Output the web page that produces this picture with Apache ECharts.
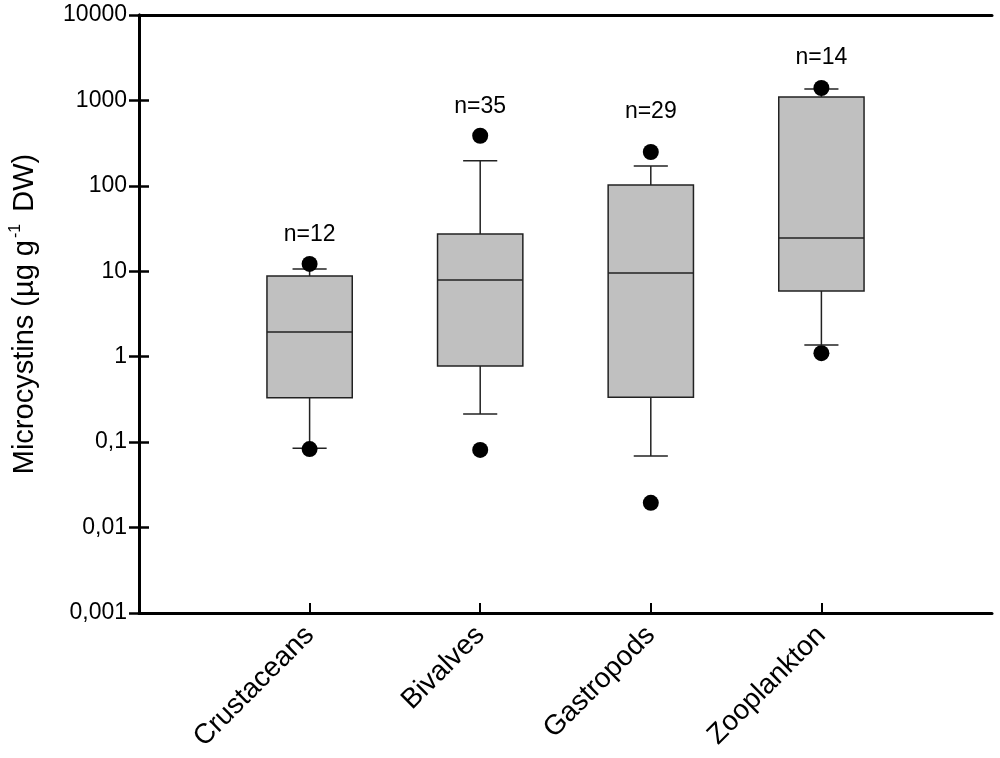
<!DOCTYPE html>
<html lang="en">
<head>
    <meta charset="UTF-8">
    <title>Microcystins</title>
    <script src="https://cdn.jsdelivr.net/npm/echarts@6.0.0/dist/echarts.min.js"></script>
    <style>
        html, body { margin: 0; padding: 0; background: #fff; }
        #main { width: 1000px; height: 758px; }
    </style>
</head>
<body>
    <div id="main"></div>
    <script>
        // box plot statistics (µg g-1 DW)
        var categories = ['Crustaceans', 'Bivalves', 'Gastropods', 'Zooplankton'];
        var whiskerLow  = [0.085, 0.213, 0.069, 1.37];
        var q1          = [0.33, 0.78, 0.335, 5.88];
        var median      = [1.95, 7.9, 9.55, 24.5];
        var q3          = [8.8, 27.3, 102, 1096];
        var whiskerHigh = [10.6, 197, 171, 1361];
        var outlierLow  = [0.083, 0.081, 0.0195, 1.10];
        var outlierHigh = [12.2, 386, 249, 1397];
        var sampleSize  = ['n=12', 'n=35', 'n=29', 'n=14'];
        var sampleLabelAt = [27, 837, 731, 3140];

        var font = 'Liberation Sans, Arial, sans-serif';

        var boxData = categories.map(function (c, i) {
            return [i + 1, whiskerLow[i], q1[i], median[i], q3[i], whiskerHigh[i]];
        });
        var outliers = [];
        categories.forEach(function (c, i) {
            outliers.push([i + 1, outlierLow[i]]);
            outliers.push([i + 1, outlierHigh[i]]);
        });
        var nData = categories.map(function (c, i) { return [i + 1, sampleLabelAt[i]]; });

        function renderBox(params, api) {
            var x = api.value(0);
            var pLow = api.coord([x, api.value(1)]);
            var pQ1 = api.coord([x, api.value(2)]);
            var pMed = api.coord([x, api.value(3)]);
            var pQ3 = api.coord([x, api.value(4)]);
            var pHigh = api.coord([x, api.value(5)]);
            var cx = pLow[0];
            var left = api.coord([x - 0.25, api.value(2)])[0];
            var right = api.coord([x + 0.25, api.value(2)])[0];
            var capL = api.coord([x - 0.1, api.value(2)])[0];
            var capR = api.coord([x + 0.1, api.value(2)])[0];
            var ln = { stroke: '#222', lineWidth: 1.5 };
            return {
                type: 'group',
                children: [
                    { type: 'line', shape: { x1: cx, y1: pLow[1], x2: cx, y2: pQ1[1] }, style: ln },
                    { type: 'line', shape: { x1: cx, y1: pQ3[1], x2: cx, y2: pHigh[1] }, style: ln },
                    { type: 'line', shape: { x1: capL, y1: pLow[1], x2: capR, y2: pLow[1] }, style: ln },
                    { type: 'line', shape: { x1: capL, y1: pHigh[1], x2: capR, y2: pHigh[1] }, style: ln },
                    { type: 'rect', shape: { x: left, y: pQ3[1], width: right - left, height: pQ1[1] - pQ3[1] },
                      style: { fill: '#c0c0c0', stroke: '#222', lineWidth: 1.5 } },
                    { type: 'line', shape: { x1: left, y1: pMed[1], x2: right, y2: pMed[1] }, style: ln }
                ]
            };
        }

        function fmtComma(v) {
            return String(Number(v.toPrecision(6))).replace('.', ',');
        }

        var chart = echarts.init(document.getElementById('main'));
        var option = {
            backgroundColor: '#fff',
            animation: false,
            grid: { left: 137, right: 8, top: 15, bottom: 145 },
            xAxis: [{
                type: 'value', min: 0, max: 5, interval: 1,
                axisLine: { show: true, lineStyle: { color: '#000', width: 3 } },
                axisTick: { show: true, inside: true, length: 10, customValues: [1, 2, 3, 4],
                            lineStyle: { color: '#000', width: 2 } },
                splitLine: { show: false },
                axisLabel: {
                    rotate: 45, margin: 18, fontSize: 28, color: '#000', fontFamily: font,
                    customValues: [1, 2, 3, 4],
                    formatter: function (v) { return categories[v - 1] || ''; }
                }
            }, {
                type: 'value', min: 0, max: 5, position: 'top',
                axisLine: { show: true, lineStyle: { color: '#000', width: 3 } },
                axisTick: { show: false }, axisLabel: { show: false }, splitLine: { show: false }
            }],
            yAxis: [{
                type: 'log', logBase: 10, min: 0.001, max: 10000, splitNumber: 7,
                name: '{t|Microcystins (µg g}{s|-1}{t| DW)}',
                nameLocation: 'middle', nameGap: 98,
                nameTextStyle: {
                    rich: {
                        t: { fontSize: 29, color: '#000', fontFamily: font },
                        s: { fontSize: 16, color: '#000', fontFamily: font, padding: [0, 4, 17, 2] }
                    }
                },
                axisLine: { show: true, lineStyle: { color: '#000', width: 3 } },
                axisTick: { show: true, inside: true, length: 10, lineStyle: { color: '#000', width: 2.5 } },
                minorTick: { show: false },
                splitLine: { show: false },
                axisLabel: { fontSize: 23, color: '#000', fontFamily: font, margin: 12, formatter: fmtComma }
            }, {
                type: 'log', logBase: 10, min: 0.001, max: 10000, splitNumber: 7, position: 'right',
                axisLine: { show: true, lineStyle: { color: '#000', width: 3 } },
                axisTick: { show: true, inside: true, length: 10, lineStyle: { color: '#000', width: 2.5 } },
                axisLabel: { show: false }, splitLine: { show: false }
            }],
            series: [{
                type: 'custom',
                renderItem: renderBox,
                encode: { x: 0, y: [1, 2, 3, 4, 5] },
                data: boxData,
                z: 2
            }, {
                type: 'scatter',
                data: outliers,
                symbol: 'circle',
                symbolSize: 16,
                itemStyle: { color: '#000', opacity: 1 },
                z: 3
            }, {
                type: 'scatter',
                data: nData,
                symbolSize: 1,
                itemStyle: { color: 'rgba(0,0,0,0)', opacity: 1 },
                label: {
                    show: true, position: 'inside', fontSize: 23, color: '#000', fontFamily: font,
                    formatter: function (p) { return sampleSize[p.dataIndex]; }
                },
                z: 4
            }]
        };
        chart.setOption(option);
    </script>
</body>
</html>
